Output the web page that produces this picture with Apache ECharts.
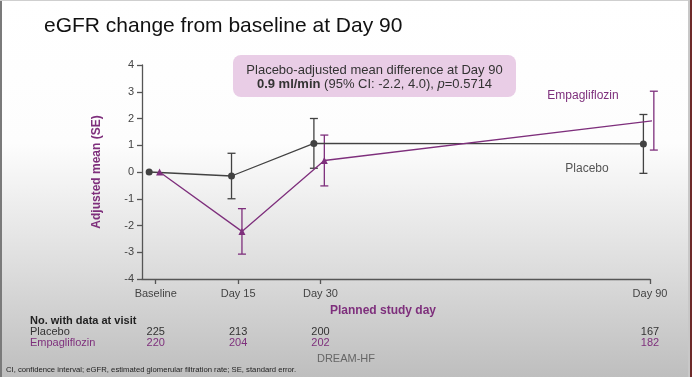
<!DOCTYPE html>
<html><head><meta charset="utf-8">
<script src="https://cdn.jsdelivr.net/npm/echarts@6/dist/echarts.min.js"></script>
<style>html,body{margin:0;padding:0;}#c{width:692px;height:377px;}</style>
</head><body><div id="c"></div>
<script>
const days = [0, 15, 30, 90];
const dayLabels = ['Baseline', 'Day 15', 'Day 30', 'Day 90'];
const placeboMean = [0, -0.15, 1.07, 1.05];
const placeboSE = [0, 0.85, 0.93, 1.1];
const empaMean = [0, -2.22, 0.43, 1.92];
const empaSE = [0, 0.85, 0.95, 1.1];
const placeboN = [225, 213, 200, 167];
const empaN = [220, 204, 202, 182];
const yTicks = [-4, -3, -2, -1, 0, 1, 2, 3, 4];
const placeboDodge = -1.2, empaDodge = 0.7;

const PLA = '#424242', EMP = '#7e2f7c', FONT = '"Liberation Sans", Arial, sans-serif';
const chart = echarts.init(document.getElementById('c'), null, {renderer: 'canvas'});

function errData(mean, se, dodge) {
  return days.map((d, i) => [d + dodge, mean[i] - se[i], mean[i] + se[i]]).filter((r, i) => se[i] > 0);
}
function errSeries(mean, se, dodge, color) {
  return {
    type: 'custom', data: errData(mean, se, dodge), encode: {x: 0, y: [1, 2]}, z: 1, silent: true,
    renderItem: function (params, api) {
      const lo = api.coord([api.value(0), api.value(1)]);
      const hi = api.coord([api.value(0), api.value(2)]);
      const w = 4, st = {stroke: color, lineWidth: 1.3};
      return {type: 'group', children: [
        {type: 'line', shape: {x1: lo[0], y1: lo[1], x2: hi[0], y2: hi[1]}, style: st},
        {type: 'line', shape: {x1: lo[0] - w, y1: lo[1], x2: lo[0] + w, y2: lo[1]}, style: st},
        {type: 'line', shape: {x1: hi[0] - w, y1: hi[1], x2: hi[0] + w, y2: hi[1]}, style: st}
      ]};
    }
  };
}

chart.setOption({
  animation: false,
  backgroundColor: {type: 'linear', x: 0, y: 0, x2: 0, y2: 1, colorStops: [
    {offset: 0, color: '#ffffff'}, {offset: 0.38, color: '#fdfdfd'},
    {offset: 0.68, color: '#e0e0e0'}, {offset: 1, color: '#bebebe'}]},
  textStyle: {fontFamily: FONT},
  grid: {left: 142, top: 65, width: 508, height: 214},
  xAxis: {
    type: 'value', min: -2.5, max: 90,
    axisLine: {show: true, onZero: false, lineStyle: {color: '#555', width: 1.3}},
    axisTick: {show: true, customValues: days, length: 5, lineStyle: {color: '#555', width: 1.3}},
    axisLabel: {customValues: days, formatter: v => dayLabels[days.indexOf(v)], color: '#444', fontSize: 11, margin: 9, fontFamily: FONT},
    splitLine: {show: false}
  },
  yAxis: {
    type: 'value', min: -4, max: 4, interval: 1,
    name: 'Adjusted mean (SE)', nameLocation: 'middle', nameGap: 39, nameRotate: 90,
    nameTextStyle: {color: EMP, fontWeight: 'bold', fontSize: 12, fontFamily: FONT},
    axisLine: {show: true, onZero: false, lineStyle: {color: '#555', width: 1.3}},
    axisTick: {show: true, length: 5, lineStyle: {color: '#555', width: 1.3}},
    axisLabel: {color: '#444', fontSize: 11, margin: 8, fontFamily: FONT},
    splitLine: {show: false}
  },
  series: [
    errSeries(placeboMean, placeboSE, placeboDodge, PLA),
    errSeries(empaMean, empaSE, empaDodge, EMP),
    {type: 'line', data: days.map((d, i) => [d + placeboDodge, placeboMean[i]]), symbol: 'circle', symbolSize: 7,
     lineStyle: {color: PLA, width: 1.3}, itemStyle: {color: PLA}, z: 3},
    {type: 'line', data: days.map((d, i) => [d + empaDodge, empaMean[i]]), symbol: 'triangle', symbolSize: 7,
     lineStyle: {color: EMP, width: 1.3}, itemStyle: {color: EMP}, z: 3}
  ]
});

const px = d => chart.convertToPixel({xAxisIndex: 0}, d);
const tStyle = (extra) => Object.assign({fontFamily: FONT, fontSize: 11, fill: '#333'}, extra);
const g = [
  {type: 'rect', shape: {x: 0, y: 0, width: 2, height: 377}, style: {fill: '#7a7a7a'}, silent: true},
  {type: 'rect', shape: {x: 0, y: 0, width: 692, height: 1}, style: {fill: '#cfcfcf'}, silent: true},
  {type: 'rect', shape: {x: 688, y: 0, width: 2, height: 377}, style: {fill: '#c8c8c8'}, silent: true},
  {type: 'rect', shape: {x: 690, y: 0, width: 2, height: 377}, style: {fill: '#6e2a2a'}, silent: true},
  {type: 'text', left: 44, top: 16, style: {text: 'eGFR change from baseline at Day 90', fontFamily: FONT, fontSize: 21, fill: '#111'}},
  {type: 'rect', shape: {x: 233, y: 55, width: 283, height: 42, r: 8}, style: {fill: '#e9cde6'}, z: 5},
  {type: 'text', x: 374.5, y: 70, z: 6, style: {text: 'Placebo-adjusted mean difference at Day 90', align: 'center', verticalAlign: 'middle', fontFamily: FONT, fontSize: 13, fill: '#333'}},
  {type: 'text', x: 374.5, y: 84.5, z: 6, style: {
    text: '{b|0.9 ml/min} (95% CI: -2.2, 4.0), {i|p}=0.5714', align: 'center', verticalAlign: 'middle',
    fontFamily: FONT, fontSize: 13, fill: '#333',
    rich: {b: {fontWeight: 'bold', fontFamily: FONT, fontSize: 13, fill: '#333'}, i: {fontStyle: 'italic', fontFamily: FONT, fontSize: 13, fill: '#333'}}}},
  {type: 'text', x: 583, y: 96, style: tStyle({text: 'Empagliflozin', align: 'center', verticalAlign: 'middle', fontSize: 12, fill: EMP})},
  {type: 'text', x: 587, y: 169, style: tStyle({text: 'Placebo', align: 'center', verticalAlign: 'middle', fontSize: 12, fill: '#555'})},
  {type: 'text', x: 383, y: 311, style: tStyle({text: 'Planned study day', align: 'center', verticalAlign: 'middle', fontSize: 12, fontWeight: 'bold', fill: EMP})},
  {type: 'text', x: 30, y: 321, style: tStyle({text: 'No. with data at visit', verticalAlign: 'middle', fontWeight: 'bold', fill: '#222'})},
  {type: 'text', x: 30, y: 332, style: tStyle({text: 'Placebo', verticalAlign: 'middle', fill: '#333'})},
  {type: 'text', x: 30, y: 343, style: tStyle({text: 'Empagliflozin', verticalAlign: 'middle', fill: EMP})},
  {type: 'text', x: 346, y: 359, style: tStyle({text: 'DREAM-HF', align: 'center', verticalAlign: 'middle', fill: '#666'})},
  {type: 'text', x: 6, y: 370, style: tStyle({text: 'CI, confidence interval; eGFR, estimated glomerular filtration rate; SE, standard error.', verticalAlign: 'middle', fontSize: 7.7, fill: '#222'})}
];
days.forEach((d, i) => {
  g.push({type: 'text', x: px(d), y: 332, style: tStyle({text: String(placeboN[i]), align: 'center', verticalAlign: 'middle', fill: '#333'})});
  g.push({type: 'text', x: px(d), y: 343, style: tStyle({text: String(empaN[i]), align: 'center', verticalAlign: 'middle', fill: EMP})});
});
chart.setOption({graphic: g});
</script></body></html>
